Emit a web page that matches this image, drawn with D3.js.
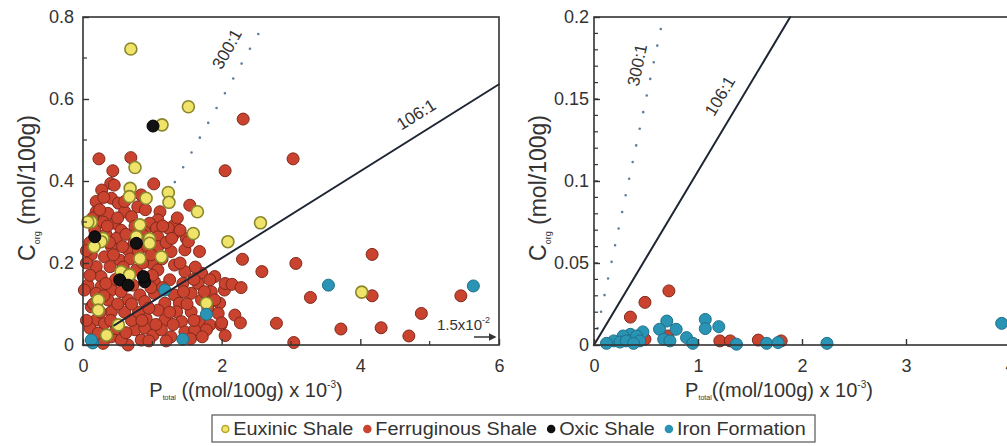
<!DOCTYPE html>
<html>
<head>
<meta charset="utf-8">
<script src="https://cdn.jsdelivr.net/npm/d3@7"></script>
<style>
  body { margin: 0; background: #fff; }
  svg { font-family: "Liberation Sans", Arial, sans-serif; }
</style>
</head>
<body>
<div id="chart"></div>
<script>
// ---- data: [P total (x10^-3 mol/100g), C org (mol/100g)] ----
const ferruginousLeft = [
  [2.31,0.551],[3.03,0.454],[2.05,0.425],
  [0.23,0.454],[0.69,0.457],[0.43,0.425],[0.40,0.394],[1.02,0.393],[0.27,0.378],
  [1.54,0.341],[0.84,0.366],[0.19,0.35],[0.41,0.358],[0.51,0.346],[0.79,0.337],
  [0.19,0.325],[0.36,0.321],[0.60,0.325],[0.70,0.313],[1.11,0.325],[1.08,0.305],
  [0.29,0.30],[0.46,0.297],[0.96,0.297],[1.32,0.293],[1.32,0.272],[1.06,0.285],[0.55,0.28],[0.17,0.28],
  [0.48,0.26],[1.08,0.264],[1.49,0.26],[0.89,0.276],[1.23,0.285],
  [0.17,0.244],[0.41,0.24],[0.65,0.232],[1.08,0.24],[1.27,0.228],[1.47,0.232],[1.68,0.228],[1.52,0.252],
  [0.12,0.22],[0.31,0.215],[0.53,0.207],[0.99,0.2],[1.32,0.195],[0.19,0.191],[0.39,0.191],
  [0.77,0.183],[1.08,0.183],[1.47,0.179],[1.71,0.175],[1.90,0.167],[0.26,0.167],
  [0.72,0.146],[1.03,0.154],[1.25,0.159],[1.44,0.15],[1.66,0.15],[1.83,0.159],[0.07,0.146],[0.26,0.142],[0.41,0.134],
  [0.19,0.126],[0.02,0.134],[0.82,0.122],[1.03,0.126],[1.32,0.122],[1.56,0.126],[1.85,0.13],[2.04,0.134],
  [0.36,0.11],[0.89,0.106],[1.18,0.102],[1.39,0.102],[1.71,0.11],[1.97,0.102],
  [0.12,0.093],[0.41,0.081],[1.08,0.085],[1.35,0.081],[1.56,0.081],[1.95,0.077],
  [0.91,0.065],[1.18,0.061],[1.42,0.057],[1.68,0.057],[1.83,0.049],[0.19,0.061],[0.31,0.053],[0.10,0.041],
  [0.22,0.029],[0.41,0.02],[0.75,0.037],[0.89,0.041],[1.01,0.024],[1.13,0.037],[1.27,0.02],[1.47,0.032],
  [1.61,0.037],[1.78,0.037],[1.99,0.049],[0.29,0.004],[0.65,0.0],[0.84,0.012],[0.55,0.012],
  [0.05,0.2],[0.1,0.17],[0.14,0.31],[0.24,0.33],[0.33,0.27],[0.38,0.25],[0.44,0.22],[0.5,0.31],
  [0.57,0.24],[0.62,0.27],[0.68,0.21],[0.74,0.25],[0.8,0.23],[0.86,0.2],[0.93,0.24],[0.98,0.22],
  [1.14,0.21],[1.2,0.25],[1.28,0.26],[1.4,0.2],[1.36,0.31],[0.58,0.19],[0.47,0.16],[0.33,0.15],
  [0.15,0.1],[0.25,0.08],[0.6,0.08],[0.7,0.06],[0.8,0.08],[0.95,0.09],[1.25,0.08],[1.5,0.1],
  [1.62,0.19],[1.75,0.13],[1.9,0.11],[1.6,0.06],[0.48,0.04],[0.62,0.03],[0.95,0.01],[1.2,0.01],
  [1.55,0.015],[1.72,0.02],[0.1,0.25],[0.3,0.36],[0.6,0.35],[0.9,0.33],[0.45,0.39],[0.98,0.14],
  [1.15,0.14],[0.65,0.11],
  [0.05,0.06],[0.3,0.12],[0.55,0.13],[0.7,0.1],[0.85,0.06],[1.05,0.05],[1.3,0.05],[1.45,0.13],
  [1.6,0.16],[1.8,0.09],[1.15,0.29],[0.85,0.27],[0.35,0.29],[0.05,0.23],[0.5,0.1],[0.75,0.29],
  [1.4,0.28],[1.0,0.17],[0.4,0.06],[0.62,0.16],
  [2.30,0.209],[3.07,0.199],[2.58,0.179],[4.17,0.221],[4.17,0.12],[3.28,0.116],[5.45,0.12],[4.88,0.077],
  [2.79,0.053],[3.72,0.039],[4.30,0.042],[4.70,0.022],[3.04,0.006],[2.05,0.023],[2.05,0.15],[2.15,0.148],
  [2.28,0.14],[2.19,0.073],[2.27,0.054],[2.0,0.054]
];
const euxinicLeft = [
  [0.69,0.722],[1.52,0.581],[1.14,0.537],[0.75,0.433],[0.68,0.382],[1.23,0.372],[1.24,0.348],[1.65,0.325],
  [2.56,0.298],[2.09,0.252],[1.59,0.272],[0.67,0.362],[0.91,0.358],[0.12,0.30],[0.07,0.30],[0.82,0.293],
  [0.29,0.26],[0.77,0.264],[0.96,0.259],[0.26,0.252],[0.16,0.24],[0.96,0.248],[1.13,0.215],[0.82,0.211],
  [0.55,0.179],[0.67,0.171],[0.22,0.11],[1.78,0.102],[0.22,0.085],[0.51,0.049],[0.34,0.024],[4.02,0.129]
];
const oxicLeft = [[1.01,0.534],[0.17,0.264],[0.77,0.248],[0.53,0.159],[0.65,0.146],[0.89,0.154],[0.87,0.167]];
const ironLeft = [[3.54,0.146],[5.63,0.144],[1.44,0.014],[0.14,0.005],[1.18,0.134],[1.78,0.075],[0.12,0.012]];

const ferruginousRight = [
  [0.35,0.017],[0.49,0.026],[0.72,0.033],[0.49,0.0035],[0.71,0.0055],[1.21,0.0025],[1.31,0.0025],
  [1.58,0.003],[1.80,0.0025]
];
const ironRight = [
  [0.70,0.0146],[0.63,0.0096],[0.79,0.0096],[1.07,0.0156],[1.07,0.01],[1.20,0.0112],[0.47,0.008],
  [0.35,0.0065],[0.28,0.0055],[0.41,0.0055],[0.19,0.0025],[0.25,0.0018],[0.31,0.0025],[0.44,0.0025],
  [0.67,0.0035],[0.73,0.0025],[0.89,0.0045],[0.95,0.001],[1.37,0.0005],[1.66,0.001],[1.77,0.0015],
  [2.24,0.001],[3.92,0.0132],[0.12,0.001],[0.38,0.001]
];

// C:P molar ratio lines, C = ratio * P * 1e-3
const ratios = [106, 300];
const legendItems = ["Euxinic Shale", "Ferruginous Shale", "Oxic Shale", "Iron Formation"];

// ---- styles ----
const styles = {
  euxinic:     { fill: "#efe36a", stroke: "#8a862c", sw: 1.6 },
  ferruginous: { fill: "#c9432e", stroke: "#80291c", sw: 1 },
  oxic:        { fill: "#111111", stroke: "#000000", sw: 1 },
  iron:        { fill: "#2a94b4", stroke: "#1f7089", sw: 1 }
};
const legendFill = ["#f1e46a", "#c9432e", "#111111", "#2a94b4"];
const legendStroke = ["#b8a830", "#c9432e", "#111111", "#2a94b4"];

const width = 1007, height = 446;
const svg = d3.select("#chart").append("svg")
  .attr("width", width).attr("height", height);

const plotTop = 17, plotBottom = 345;

function panel(opts) {
  const x = d3.scaleLinear().domain(opts.xDomain).range(opts.xRange);
  const y = d3.scaleLinear().domain(opts.yDomain).range([plotBottom, plotTop]);
  const g = svg.append("g");
  const below = g.append("g");

  // points
  opts.series.forEach(s => {
    const st = styles[s.type];
    g.append("g").selectAll("circle")
      .data(s.data)
      .join("circle")
      .attr("cx", d => x(d[0]))
      .attr("cy", d => y(d[1]))
      .attr("r", 6)
      .attr("fill", st.fill)
      .attr("stroke", st.stroke)
      .attr("stroke-width", st.sw);
  });

  // ratio lines: dotted 300:1 under the points, solid 106:1 over them
  ratios.forEach(r => {
    const pMax = Math.min(opts.xDomain[1], opts.yDomain[1] / (r * 1e-3));
    const dotted = r === 300;
    const pStart = dotted ? 0 : opts.solidStart;
    const pEnd = dotted ? pMax * opts.dotEnd : pMax;
    (dotted ? below : g).append("line")
      .attr("x1", x(pStart)).attr("y1", y(r * 1e-3 * pStart))
      .attr("x2", x(pEnd)).attr("y2", y(r * 1e-3 * pEnd))
      .attr("stroke", dotted ? "#5e7c9c" : "#1e2533")
      .attr("stroke-width", dotted ? 2.6 : 2)
      .attr("stroke-linecap", "round")
      .attr("stroke-dasharray", dotted ? "0,17" : null);
  });

  // ratio labels
  opts.labels.forEach(l => {
    const ang = Math.atan(l.r * 1e-3 * (y(0) - y(1)) / (x(1) - x(0))) * 180 / Math.PI;
    g.append("text")
      .attr("transform", `translate(${x(l.p)},${y(l.c)}) rotate(${-ang})`)
      .attr("text-anchor", "middle")
      .attr("font-size", 17)
      .attr("fill", "#333")
      .text(l.r + ":1");
  });

  // frame
  const r0 = opts.xRange[0], r1 = opts.xRange[1];
  g.append("rect")
    .attr("x", r0).attr("y", plotTop)
    .attr("width", r1 - r0).attr("height", plotBottom - plotTop)
    .attr("fill", "none").attr("stroke", "#333").attr("stroke-width", 1.6);

  // axes with inward ticks
  const xAxis = d3.axisBottom(x).tickValues(opts.xTicks).tickSize(-6).tickPadding(14).tickFormat(d3.format("d"));
  const xg = g.append("g").attr("transform", `translate(0,${plotBottom})`).call(xAxis);
  const yAxis = d3.axisLeft(y).tickValues(opts.yTicks).tickSize(-6).tickPadding(opts.yPad).tickFormat(d => d === 0 ? "0" : d3.format("")(d));
  const yg = g.append("g").attr("transform", `translate(${r0},0)`).call(yAxis);
  [xg, yg].forEach(a => {
    a.select(".domain").remove();
    a.selectAll(".tick line").attr("stroke", "#333").attr("stroke-width", 1.4);
    a.selectAll(".tick text").attr("font-size", 18).attr("fill", "#333")
      .attr("font-family", "Liberation Sans, Arial, sans-serif");
  });
  // minor ticks
  g.append("g").selectAll("line").data(opts.yMinor).join("line")
    .attr("x1", r0).attr("x2", r0 + 4).attr("y1", d => y(d)).attr("y2", d => y(d))
    .attr("stroke", "#333").attr("stroke-width", 1.2);
  g.append("g").selectAll("line").data(opts.xMinor).join("line")
    .attr("x1", d => x(d)).attr("x2", d => x(d)).attr("y1", plotBottom).attr("y2", plotBottom - 4)
    .attr("stroke", "#333").attr("stroke-width", 1.2);

  // y label
  const yl = g.append("text")
    .attr("transform", `translate(${opts.yLabelX},188) rotate(-90)`)
    .attr("text-anchor", "middle")
    .attr("font-size", 23).attr("fill", "#333");
  yl.append("tspan").text("C");
  yl.append("tspan").attr("font-size", 9).attr("dy", 5).text("org");
  yl.append("tspan").attr("dy", -5).text(" (mol/100g)");

  // x label
  const xl = g.append("text")
    .attr("x", opts.xLabelX).attr("y", 397)
    .attr("text-anchor", "middle")
    .attr("font-size", 20).attr("fill", "#333");
  xl.append("tspan").text("P");
  xl.append("tspan").attr("font-size", 7).attr("dy", 3).text("total");
  xl.append("tspan").attr("dy", -3).text(opts.xLabelGap + "((mol/100g) x 10");
  xl.append("tspan").attr("font-size", 10).attr("dy", -9).text("-3");
  xl.append("tspan").attr("dy", 9).text(")");

  return { x, y, g };
}

// Left panel
const left = panel({
  xDomain: [0, 6], xRange: [83, 499],
  yDomain: [0, 0.8],
  xTicks: [0, 2, 4, 6], xMinor: [1, 3, 5],
  yTicks: [0, 0.2, 0.4, 0.6, 0.8], yMinor: [0.1, 0.3, 0.5, 0.7],
  yPad: 9, yLabelX: 35, xLabelX: 246, xLabelGap: " ",
  dotEnd: 0.965, solidStart: 0.45,
  labels: [{ r: 300, p: 2.15, c: 0.715 }, { r: 106, p: 4.85, c: 0.55 }],
  series: [
    { type: "ferruginous", data: ferruginousLeft },
    { type: "euxinic", data: euxinicLeft },
    { type: "oxic", data: oxicLeft },
    { type: "iron", data: ironLeft }
  ]
});

// off-scale annotation
const ann = left.g.append("text")
  .attr("x", 490).attr("y", 330)
  .attr("text-anchor", "end").attr("font-size", 15).attr("fill", "#333");
ann.append("tspan").text("1.5x10");
ann.append("tspan").attr("font-size", 9).attr("dy", -7).text("-2");
svg.append("defs").append("marker")
  .attr("id", "arr").attr("viewBox", "0 0 10 10").attr("refX", 8).attr("refY", 5)
  .attr("markerWidth", 5).attr("markerHeight", 5).attr("orient", "auto")
  .append("path").attr("d", "M0,0L10,5L0,10z").attr("fill", "#333");
left.g.append("line")
  .attr("x1", 474).attr("x2", 495).attr("y1", 337).attr("y2", 337)
  .attr("stroke", "#333").attr("stroke-width", 1.5).attr("marker-end", "url(#arr)");

// Right panel
panel({
  xDomain: [0, 4], xRange: [594, 1010],
  yDomain: [0, 0.2],
  xTicks: [0, 1, 2, 3, 4], xMinor: [],
  yTicks: [0, 0.05, 0.1, 0.15, 0.2], yMinor: d3.range(0.01, 0.2, 0.01),
  yPad: 5, yLabelX: 546, xLabelX: 779, xLabelGap: "",
  dotEnd: 0.975, solidStart: 0,
  labels: [{ r: 300, p: 0.47, c: 0.17 }, { r: 106, p: 1.26, c: 0.15 }],
  series: [
    { type: "ferruginous", data: ferruginousRight },
    { type: "iron", data: ironRight }
  ]
});

// Legend: items laid out from measured text, slightly widened, centred in the box
const boxX = 212, boxW = 603;
const lg = svg.append("g");
lg.append("rect")
  .attr("x", boxX).attr("y", 415).attr("width", boxW).attr("height", 27)
  .attr("fill", "#fff").attr("stroke", "#555").attr("stroke-width", 1.2);
const texts = legendItems.map(t => lg.append("text")
  .attr("y", 435).attr("font-size", 18).attr("fill", "#333").text(t));
const stretch = 1.1, dotW = 8, gapIn = 4, gapOut = 10;
const widths = texts.map(t => t.node().getComputedTextLength() * stretch);
const total = d3.sum(widths) + legendItems.length * (dotW + gapIn) + (legendItems.length - 1) * gapOut;
let cx = boxX + (boxW - total) / 2;
texts.forEach((t, i) => {
  lg.append("circle")
    .attr("cx", cx + dotW / 2).attr("cy", 429).attr("r", 3.5)
    .attr("fill", legendFill[i]).attr("stroke", legendStroke[i]).attr("stroke-width", 1.5);
  t.attr("x", cx + dotW + gapIn)
    .attr("textLength", widths[i]).attr("lengthAdjust", "spacingAndGlyphs");
  cx += dotW + gapIn + widths[i] + gapOut;
});
</script>
</body>
</html>
